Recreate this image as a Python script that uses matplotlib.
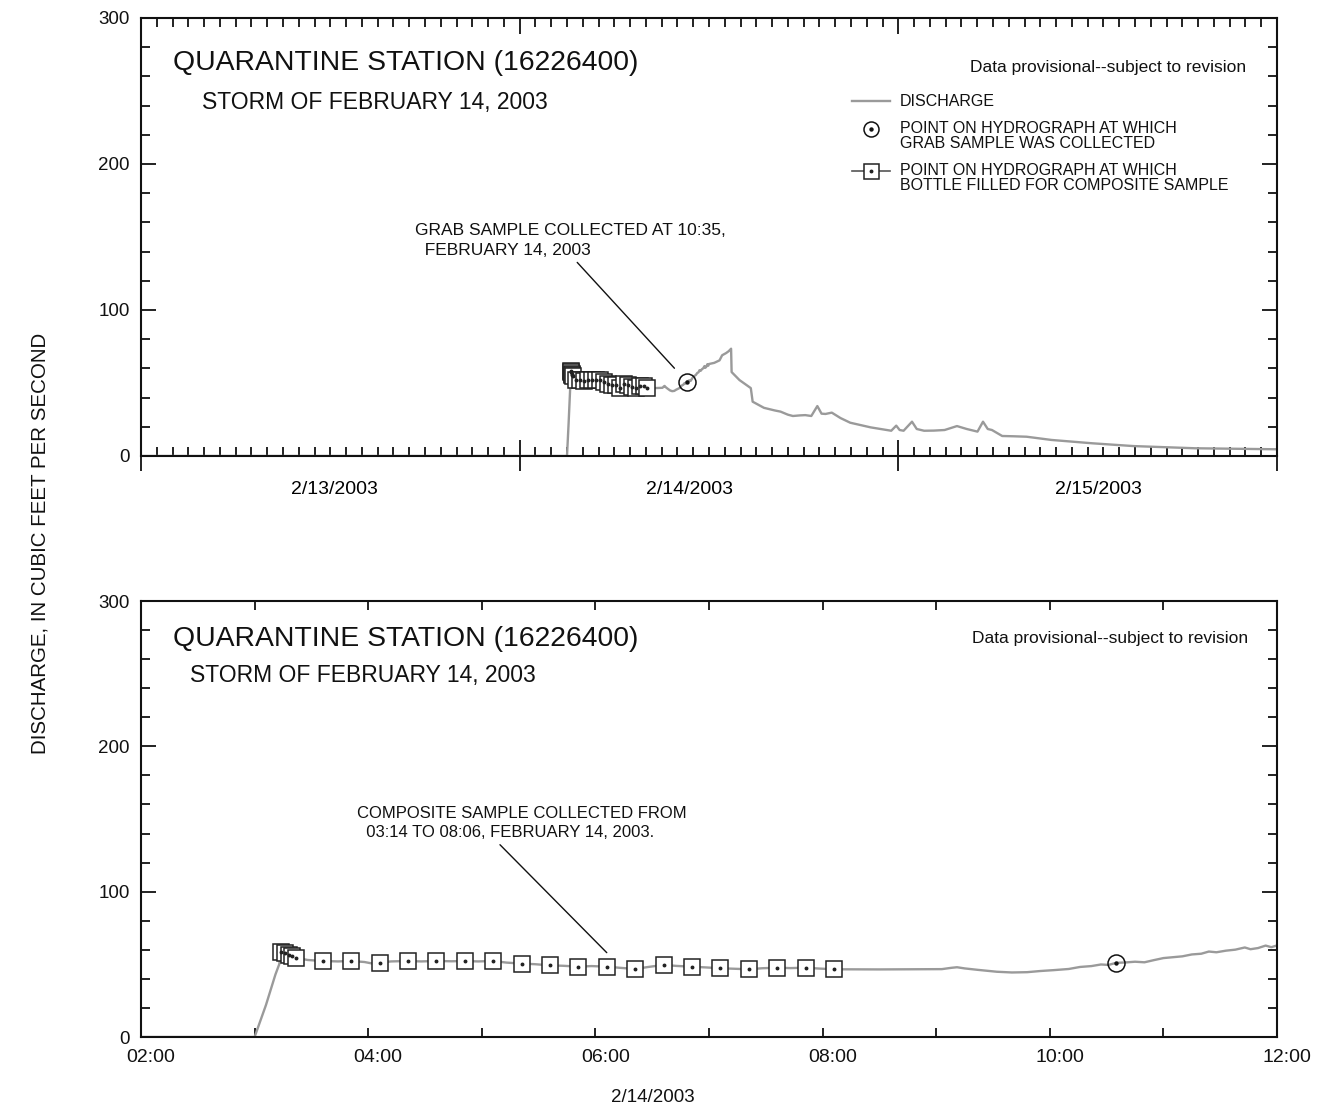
import matplotlib
matplotlib.use("Agg")
import matplotlib.pyplot as plt
import matplotlib.dates as mdates
import pandas as pd
from matplotlib.lines import Line2D
from matplotlib.legend_handler import HandlerTuple
from matplotlib.transforms import ScaledTranslation

plt.rcParams['font.family'] = ['Liberation Sans', 'DejaVu Sans']

# ---------------- data ----------------
discharge_time = [
    "2003-02-13 00:00", "2003-02-14 03:00", "2003-02-14 03:06", "2003-02-14 03:11",
    "2003-02-14 03:13", "2003-02-14 03:14", "2003-02-14 03:16", "2003-02-14 03:18",
    "2003-02-14 03:20", "2003-02-14 03:22", "2003-02-14 03:28", "2003-02-14 03:36",
    "2003-02-14 03:44", "2003-02-14 03:51", "2003-02-14 03:58", "2003-02-14 04:02",
    "2003-02-14 04:06", "2003-02-14 04:12", "2003-02-14 04:21", "2003-02-14 04:28",
    "2003-02-14 04:36", "2003-02-14 04:44", "2003-02-14 04:51", "2003-02-14 04:58",
    "2003-02-14 05:06", "2003-02-14 05:13", "2003-02-14 05:21", "2003-02-14 05:28",
    "2003-02-14 05:36", "2003-02-14 05:43", "2003-02-14 05:51", "2003-02-14 05:58",
    "2003-02-14 06:06", "2003-02-14 06:13", "2003-02-14 06:21", "2003-02-14 06:28",
    "2003-02-14 06:36", "2003-02-14 06:43", "2003-02-14 06:51", "2003-02-14 06:58",
    "2003-02-14 07:06", "2003-02-14 07:13", "2003-02-14 07:21", "2003-02-14 07:28",
    "2003-02-14 07:36", "2003-02-14 07:43", "2003-02-14 07:51", "2003-02-14 07:58",
    "2003-02-14 08:06", "2003-02-14 08:30", "2003-02-14 08:50", "2003-02-14 09:03",
    "2003-02-14 09:08", "2003-02-14 09:11", "2003-02-14 09:15", "2003-02-14 09:22",
    "2003-02-14 09:32", "2003-02-14 09:40", "2003-02-14 09:48", "2003-02-14 09:55",
    "2003-02-14 10:02", "2003-02-14 10:10", "2003-02-14 10:16", "2003-02-14 10:22",
    "2003-02-14 10:27", "2003-02-14 10:31", "2003-02-14 10:35", "2003-02-14 10:40",
    "2003-02-14 10:45", "2003-02-14 10:50", "2003-02-14 10:55", "2003-02-14 11:00",
    "2003-02-14 11:05", "2003-02-14 11:10", "2003-02-14 11:15", "2003-02-14 11:20",
    "2003-02-14 11:24", "2003-02-14 11:28", "2003-02-14 11:33", "2003-02-14 11:38",
    "2003-02-14 11:43", "2003-02-14 11:46", "2003-02-14 11:50", "2003-02-14 11:54",
    "2003-02-14 11:57", "2003-02-14 12:00", "2003-02-14 12:20", "2003-02-14 12:40",
    "2003-02-14 12:50", "2003-02-14 13:05", "2003-02-14 13:15", "2003-02-14 13:24",
    "2003-02-14 13:26", "2003-02-14 13:56", "2003-02-14 14:39", "2003-02-14 14:46",
    "2003-02-14 15:29", "2003-02-14 16:10", "2003-02-14 16:32", "2003-02-14 17:00",
    "2003-02-14 17:19", "2003-02-14 17:45", "2003-02-14 18:06", "2003-02-14 18:29",
    "2003-02-14 18:52", "2003-02-14 19:08", "2003-02-14 19:23", "2003-02-14 19:47",
    "2003-02-14 20:20", "2003-02-14 20:57", "2003-02-14 21:40", "2003-02-14 22:15",
    "2003-02-14 23:00", "2003-02-14 23:33", "2003-02-14 23:52", "2003-02-15 00:05",
    "2003-02-15 00:20", "2003-02-15 00:52", "2003-02-15 01:10", "2003-02-15 01:38",
    "2003-02-15 02:15", "2003-02-15 02:56", "2003-02-15 03:43", "2003-02-15 04:20",
    "2003-02-15 05:01", "2003-02-15 05:22", "2003-02-15 05:40", "2003-02-15 05:56",
    "2003-02-15 06:35", "2003-02-15 07:20", "2003-02-15 08:08", "2003-02-15 09:42",
    "2003-02-15 12:18", "2003-02-15 14:54", "2003-02-15 18:48", "2003-02-16 00:00",
]
discharge_cfs = [
    0, 0, 22, 43,
    50, 58.5, 57.5, 56.5,
    55.5, 54.5, 53.0, 52.3,
    52.0, 52.3, 51.6, 50.6,
    51.1, 52.0, 52.3, 52.0,
    52.3, 52.1, 52.3, 52.0,
    52.3, 51.2, 50.5, 50.1,
    49.3, 49.0, 48.4, 48.8,
    48.4, 47.6, 46.8, 48.2,
    49.6, 48.9, 48.4, 47.9,
    47.3, 47.0, 46.6, 47.3,
    47.7, 47.4, 47.7, 47.1,
    46.6, 46.5, 46.6, 46.7,
    47.6, 48.0, 47.2, 46.2,
    44.9, 44.4, 44.6, 45.4,
    46.0, 46.8, 48.2, 48.8,
    49.9, 49.6, 51.0, 51.3,
    51.8, 51.4, 52.9, 54.3,
    54.9, 55.5, 56.8, 57.3,
    58.8, 58.3, 59.4, 60.1,
    61.6, 60.4, 61.2, 62.9,
    61.8, 63.0, 63.8, 65.5,
    69.0, 70.5, 71.8, 73.5,
    57.5, 52.0, 46.5, 37.2,
    33.0, 31.2, 30.4, 28.3,
    27.4, 27.8, 28.0, 27.4,
    34.2, 29.0, 28.8, 29.7,
    26.0, 22.8, 21.0, 19.6,
    18.3, 17.3, 20.8, 17.8,
    17.3, 23.5, 18.5, 17.3,
    17.4, 17.8, 20.5, 18.5,
    16.7, 23.5, 18.5, 17.8,
    13.7, 13.5, 13.2, 11.0,
    8.7, 6.8, 5.3, 4.6,
]

composite_time = [
    "2003-02-14 03:14", "2003-02-14 03:16", "2003-02-14 03:18", "2003-02-14 03:20",
    "2003-02-14 03:22", "2003-02-14 03:36", "2003-02-14 03:51", "2003-02-14 04:06",
    "2003-02-14 04:21", "2003-02-14 04:36", "2003-02-14 04:51", "2003-02-14 05:06",
    "2003-02-14 05:21", "2003-02-14 05:36", "2003-02-14 05:51", "2003-02-14 06:06",
    "2003-02-14 06:21", "2003-02-14 06:36", "2003-02-14 06:51", "2003-02-14 07:06",
    "2003-02-14 07:21", "2003-02-14 07:36", "2003-02-14 07:51", "2003-02-14 08:06",
]
composite_cfs = [
    58.5, 57.5, 56.5, 55.5,
    54.5, 52.3, 52.3, 51.1,
    52.3, 52.3, 52.3, 52.3,
    50.5, 49.3, 48.4, 48.4,
    46.8, 49.6, 48.4, 47.3,
    46.6, 47.7, 47.7, 46.6,
]

grab_time = ["2003-02-14 10:35"]
grab_cfs = [51.0]

top_xlim = ["2003-02-13 00:00", "2003-02-16 00:00"]
top_label_pos = ["2003-02-13 12:15", "2003-02-14 10:45", "2003-02-15 12:40"]
top_labels = ["2/13/2003", "2/14/2003", "2/15/2003"]
bottom_xlim = ["2003-02-14 02:00", "2003-02-14 12:00"]
y_major = [0, 100, 200, 300]

title_text = "QUARANTINE STATION (16226400)"
storm_text = "STORM OF FEBRUARY 14, 2003"
prov_text = "Data provisional--subject to revision"
legend_labels = ["DISCHARGE",
                 "POINT ON HYDROGRAPH AT WHICH\nGRAB SAMPLE WAS COLLECTED",
                 "POINT ON HYDROGRAPH AT WHICH\nBOTTLE FILLED FOR COMPOSITE SAMPLE"]
grab_note = "GRAB SAMPLE COLLECTED AT 10:35,\n  FEBRUARY 14, 2003"
comp_note = "COMPOSITE SAMPLE COLLECTED FROM\n  03:14 TO 08:06, FEBRUARY 14, 2003."
ylabel_text = "DISCHARGE, IN CUBIC FEET PER SECOND"
bottom_date_text = "2/14/2003"

# ---------------- helpers ----------------
def dnum(lst):
    return mdates.date2num(pd.to_datetime(lst))

xd, yd = dnum(discharge_time), discharge_cfs
xc, yc = dnum(composite_time), composite_cfs
xg, yg = dnum(grab_time), grab_cfs

GRAY = "#9a9a9a"
INK = "#111111"
PX = 72 / 100.0  # points per pixel at 100 dpi

fig = plt.figure(figsize=(13.24, 11.18), dpi=100)
ax1 = fig.add_axes([141/1324, 1-456/1118, 1136/1324, 438/1118])
ax2 = fig.add_axes([141/1324, 1-1037/1118, 1136/1324, 436/1118])


def draw_series(ax):
    ax.plot(xd, yd, color=GRAY, lw=1.7, zorder=2)
    ax.plot(xc, yc, ls='none', marker='s', ms=16*PX, mfc='white', mec='#222222',
            mew=1.1, zorder=3)
    ax.plot(xc, yc, ls='none', marker='o', ms=2.5*PX, color='#222222', zorder=4)
    ax.plot(xg, yg, ls='none', marker='o', ms=17*PX, mfc='none', mec=INK,
            mew=1.1, zorder=4)
    ax.plot(xg, yg, ls='none', marker='o', ms=3*PX, color=INK, zorder=5)


def style_y(ax):
    ax.set_ylim(0, 300)
    ax.set_yticks(y_major)
    ax.set_yticks(range(0, 301, 20), minor=True)
    ax.tick_params(axis='y', which='both', direction='in', left=True, right=True,
                   labelsize=13.5, pad=8, width=1.3, colors=INK)
    ax.tick_params(axis='y', which='major', length=15*PX)
    ax.tick_params(axis='y', which='minor', length=9*PX)
    for s in ax.spines.values():
        s.set_linewidth(1.5)
        s.set_color(INK)


class FirstLineTuple(HandlerTuple):
    """Overlay the glyphs and align them with the first line of a two-line label."""
    def create_artists(self, legend, orig_handle, xdescent, ydescent, width,
                       height, fontsize, trans):
        return super().create_artists(legend, orig_handle, xdescent,
                                      ydescent - 0.95 * fontsize, width, height,
                                      fontsize, trans)


# ---------------- top panel ----------------
draw_series(ax1)
style_y(ax1)
ax1.set_xlim(*dnum(top_xlim))
ax1.xaxis.set_major_locator(mdates.DayLocator())
ax1.xaxis.set_minor_locator(mdates.HourLocator())
ax1.xaxis.set_major_formatter(plt.NullFormatter())
ax1.tick_params(axis='x', which='both', direction='in', top=True, bottom=True,
                width=1.3, colors=INK)
ax1.tick_params(axis='x', which='major', length=16*PX)
ax1.tick_params(axis='x', which='minor', length=9*PX)

sec1 = ax1.secondary_xaxis('bottom')
sec1.spines['bottom'].set_visible(False)
sec1.xaxis.set_major_locator(mdates.DayLocator())
sec1.xaxis.set_major_formatter(plt.NullFormatter())
sec1.set_xticks(dnum(top_label_pos), top_labels, minor=True)
sec1.tick_params(axis='x', which='major', direction='out', length=15*PX, width=1.3,
                 colors=INK)
sec1.tick_params(axis='x', which='minor', length=0, pad=18, labelsize=14)

ax1.text(0.028, 0.897, title_text, transform=ax1.transAxes, fontsize=20.4,
         va='center', ha='left', color=INK)
ax1.text(0.0537, 0.806, storm_text, transform=ax1.transAxes, fontsize=16.5,
         va='center', ha='left', color=INK)
ax1.text(0.9727, 0.886, prov_text, transform=ax1.transAxes, fontsize=12.5,
         va='center', ha='right', color=INK)

h_line = Line2D([], [], color=GRAY, lw=1.7)
h_grab = (Line2D([], [], ls='none', marker='o', ms=15*PX, mfc='none', mec=INK, mew=1.1),
          Line2D([], [], ls='none', marker='o', ms=3*PX, color=INK))
h_comp = (Line2D([], [], color='#555555', lw=1.2),
          Line2D([], [], ls='none', marker='s', ms=15*PX, mfc='white',
                 mec='#222222', mew=1.1),
          Line2D([], [], ls='none', marker='o', ms=2.5*PX, color='#222222'))
leg = ax1.legend([h_line, h_grab, h_comp], legend_labels,
                 handler_map={tuple: FirstLineTuple(ndivide=1, pad=0)},
                 loc='upper left', bbox_to_anchor=(0.626, 0.826), frameon=False,
                 fontsize=11.5, handlelength=2.4, handletextpad=0.6,
                 labelspacing=0.75, borderaxespad=0, borderpad=0,
                 labelcolor=INK)
for t in leg.get_texts():
    t.set_linespacing(1.0)

ax1.text(0.241, 0.531, grab_note, transform=ax1.transAxes, fontsize=12.5,
         va='top', ha='left', color=INK, linespacing=1.35)
ax1.annotate('', xy=(xg[0], yg[0]), xycoords='data',
             xytext=(0.384, 0.442), textcoords='axes fraction',
             arrowprops=dict(arrowstyle='-', color=INK, lw=1.0,
                             shrinkA=0, shrinkB=13))

# ---------------- bottom panel ----------------
draw_series(ax2)
style_y(ax2)
ax2.set_xlim(*dnum(bottom_xlim))
ax2.xaxis.set_major_locator(mdates.HourLocator(byhour=range(0, 24, 2)))
ax2.xaxis.set_minor_locator(mdates.HourLocator())
ax2.xaxis.set_major_formatter(mdates.DateFormatter('%H:%M'))
ax2.tick_params(axis='x', which='both', direction='in', top=True, bottom=True,
                width=1.3, colors=INK, labelsize=14, pad=9)
ax2.tick_params(axis='x', which='both', length=9*PX)
offset = ScaledTranslation(10/100, 0, fig.dpi_scale_trans)
for lab in ax2.get_xticklabels():
    lab.set_transform(lab.get_transform() + offset)

ax2.text(0.028, 0.913, title_text, transform=ax2.transAxes, fontsize=20.4,
         va='center', ha='left', color=INK)
ax2.text(0.043, 0.828, storm_text, transform=ax2.transAxes, fontsize=16.5,
         va='center', ha='left', color=INK)
ax2.text(0.975, 0.915, prov_text, transform=ax2.transAxes, fontsize=12.5,
         va='center', ha='right', color=INK)

comp_idx = composite_time.index("2003-02-14 06:06")
ax2.text(0.190, 0.530, comp_note, transform=ax2.transAxes, fontsize=12,
         va='top', ha='left', color=INK, linespacing=1.35)
above_square = ax2.transData + ScaledTranslation(0, 14/100, fig.dpi_scale_trans)
ax2.annotate('', xy=(xc[comp_idx], yc[comp_idx]), xycoords=above_square,
             xytext=(0.316, 0.441), textcoords='axes fraction',
             arrowprops=dict(arrowstyle='-', color=INK, lw=1.0,
                             shrinkA=0, shrinkB=0))

fig.text(653/1324, 1-1097/1118, bottom_date_text, fontsize=13.5, ha='center',
         va='center', color=INK)
fig.text(40/1324, 1-543/1118, ylabel_text, fontsize=14.8, rotation=90,
         ha='center', va='center', color=INK)

fig.savefig("out.png", dpi=100, facecolor='white')
